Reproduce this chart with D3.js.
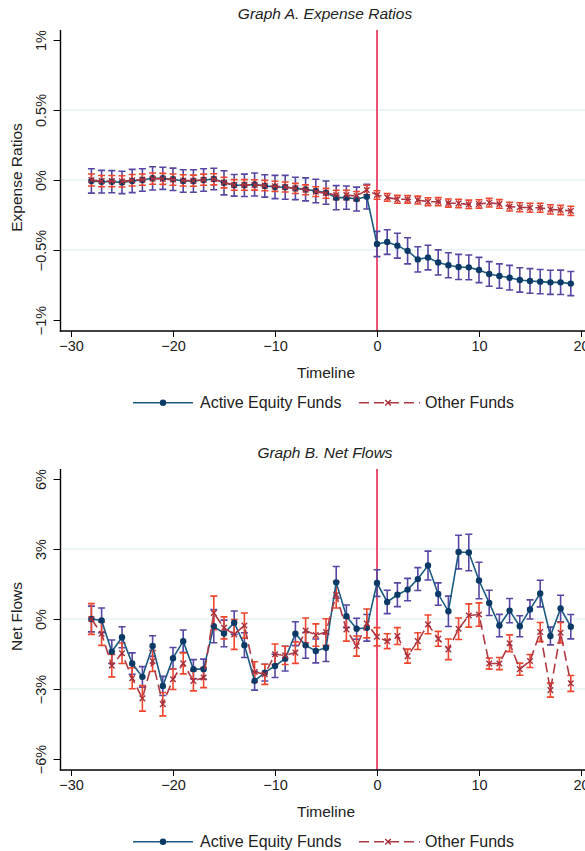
<!DOCTYPE html>
<html>
<head>
<meta charset="utf-8">
<script src="https://cdn.jsdelivr.net/npm/d3@7"></script>
<style>
  body { margin: 0; background: #fff; }
  svg { display: block; font-family: "Liberation Sans", Arial, sans-serif; }
</style>
</head>
<body>
<div id="chart"></div>
<script>
const timeline = [-28, -27, -26, -25, -24, -23, -22, -21, -20, -19, -18, -17, -16, -15, -14, -13,
  -12, -11, -10, -9, -8, -7, -6, -5, -4, -3, -2, -1, 0, 1, 2, 3, 4, 5, 6, 7, 8, 9, 10, 11, 12, 13,
  14, 15, 16, 17, 18, 19]
const xTicks = [-30, -20, -10, 0, 10, 20]
const seriesNames = ["Active Equity Funds", "Other Funds"]

// Graph A: expense ratios (%), point estimates and CI half widths
const activeER = [-0.007, -0.012, -0.012, -0.017, -0.007, 0.000, 0.012, 0.012, 0.005, -0.007,
  -0.007, 0.000, 0.007, -0.020, -0.038, -0.038, -0.032, -0.042, -0.050, -0.052, -0.060, -0.067,
  -0.079, -0.090, -0.126, -0.126, -0.136, -0.119, -0.457, -0.443, -0.469, -0.506, -0.567, -0.554,
  -0.589, -0.609, -0.621, -0.624, -0.643, -0.671, -0.686, -0.698, -0.714, -0.721, -0.726, -0.731,
  -0.731, -0.740]
const activeERci = [0.087, 0.081, 0.079, 0.080, 0.083, 0.080, 0.083, 0.079, 0.080, 0.080, 0.080,
  0.080, 0.077, 0.086, 0.077, 0.080, 0.082, 0.080, 0.083, 0.085, 0.080, 0.082, 0.084, 0.083, 0.086,
  0.083, 0.085, 0.088, 0.090, 0.088, 0.089, 0.093, 0.090, 0.088, 0.090, 0.089, 0.090, 0.088, 0.090,
  0.088, 0.087, 0.088, 0.087, 0.088, 0.087, 0.086, 0.087, 0.086]
const otherER = [0.000, -0.008, -0.008, -0.010, -0.002, 0.003, 0.010, 0.008, 0.003, -0.003, -0.005,
  0.002, 0.005, -0.018, -0.035, -0.035, -0.035, -0.040, -0.045, -0.050, -0.060, -0.070, -0.083,
  -0.095, -0.107, -0.107, -0.115, -0.071, -0.107, -0.124, -0.138, -0.138, -0.143, -0.155, -0.155,
  -0.165, -0.167, -0.174, -0.171, -0.162, -0.171, -0.190, -0.195, -0.198, -0.198, -0.210, -0.214,
  -0.221]
const otherERci = [0.043, 0.040, 0.040, 0.040, 0.041, 0.040, 0.040, 0.039, 0.040, 0.040, 0.040,
  0.040, 0.040, 0.038, 0.038, 0.038, 0.037, 0.037, 0.036, 0.036, 0.036, 0.035, 0.035, 0.035, 0.034,
  0.034, 0.033, 0.034, 0.030, 0.028, 0.028, 0.027, 0.028, 0.028, 0.029, 0.029, 0.030, 0.030, 0.030,
  0.031, 0.031, 0.031, 0.032, 0.032, 0.032, 0.033, 0.033, 0.033]

// Graph B: net flows (%), point estimates and CI half widths
const activeFlow = [0.00, -0.06, -1.40, -0.78, -1.91, -2.48, -1.16, -2.87, -1.68, -0.95, -2.15,
  -2.15, -0.31, -0.62, -0.16, -1.12, -2.65, -2.30, -2.01, -1.70, -0.63, -1.13, -1.37, -1.23, 1.57,
  0.12, -0.42, -0.38, 1.54, 0.73, 1.04, 1.26, 1.71, 2.29, 1.07, 0.33, 2.87, 2.85, 1.65, 0.69, -0.28,
  0.36, -0.31, 0.41, 1.09, -0.73, 0.45, -0.33]
const activeFlowCi = [0.55, 0.53, 0.50, 0.45, 0.46, 0.44, 0.44, 0.41, 0.46, 0.48, 0.41, 0.43, 0.71,
  0.57, 0.50, 0.53, 0.40, 0.36, 0.50, 0.53, 0.51, 0.55, 0.51, 0.59, 0.68, 0.48, 0.45, 0.57, 0.57,
  0.50, 0.51, 0.48, 0.49, 0.62, 0.48, 0.65, 0.72, 0.78, 0.78, 0.54, 0.48, 0.52, 0.45, 0.41, 0.57,
  0.38, 0.57, 0.52]
const otherFlow = [0.00, -0.63, -2.00, -1.47, -2.54, -3.40, -1.80, -3.65, -2.58, -1.90, -2.65,
  -2.51, 0.26, -0.38, -0.66, -0.28, -2.27, -2.37, -1.51, -1.56, -1.44, -0.49, -0.69, -0.56, 1.04,
  -0.45, -1.16, -0.19, -0.76, -0.95, -0.73, -1.59, -0.95, -0.23, -0.85, -1.30, -0.42, 0.15, 0.19,
  -1.91, -1.91, -1.04, -2.15, -1.80, -0.56, -3.05, -0.59, -2.76]
const otherFlowCi = [0.66, 0.50, 0.48, 0.44, 0.45, 0.55, 0.45, 0.50, 0.44, 0.45, 0.43, 0.43, 0.72,
  0.47, 0.64, 0.54, 0.44, 0.43, 0.44, 0.39, 0.46, 0.53, 0.48, 0.57, 0.57, 0.50, 0.43, 0.62, 0.39,
  0.32, 0.36, 0.30, 0.36, 0.40, 0.32, 0.44, 0.46, 0.50, 0.50, 0.24, 0.26, 0.36, 0.26, 0.28, 0.41,
  0.30, 0.44, 0.34]

const erTicks = [-1, -0.5, 0, 0.5, 1]
const erLabels = ["\u22121%", "\u22120.5%", "0%", "0.5%", "1%"]
const flowTicks = [-6, -3, 0, 3, 6]
const flowLabels = ["\u22126%", "\u22123%", "0%", "3%", "6%"]

width = 585
height = 851

blueLine = "#1c5a82"
blueDot = "#0b3a66"
blueCi = "#5547a3"
redLine = "#b03a44"
redMark = "#a8303c"
redCi = "#f0462e"

const svg = d3.select("#chart").append("svg")
    .attr("width", width)
    .attr("height", height)

x = d3.scaleLinear()
    .domain([-30, 20])
    .range([71, 581])

function panel(top, title, ylabel, ticks, labels, active, activeCi, other, otherCi) {
  const g = svg.append("g")
      .attr("transform", `translate(0,${top})`)

  const y = d3.scaleLinear()
      .domain([ticks[0], ticks[ticks.length - 1]])
      .range([320, 40])
  const plotTop = 30, plotBottom = 331, plotLeft = 60.5

  // gridlines on inner ticks only
  g.append("g")
    .selectAll("line")
    .data(ticks.slice(1, -1))
    .join("line")
      .attr("x1", plotLeft)
      .attr("x2", width)
      .attr("y1", d => y(d))
      .attr("y2", d => y(d))
      .attr("stroke", "#dbeeee")
      .attr("stroke-width", 1.2)

  g.append("line")
      .attr("x1", x(0)).attr("x2", x(0))
      .attr("y1", plotTop).attr("y2", plotBottom)
      .attr("stroke", "#ea5472")
      .attr("stroke-width", 2)

  const rows = timeline.map((t, i) => ({t, a: active[i], ac: activeCi[i], o: other[i], oc: otherCi[i]}))

  function caps(key, ci, color) {
    const cg = g.append("g")
        .attr("stroke", color)
        .attr("stroke-width", 1.6)
        .attr("fill", "none")
    cg.selectAll("path")
      .data(rows)
      .join("path")
        .attr("d", d => {
          const cx = x(d.t), y1 = y(d[key] + d[ci]), y2 = y(d[key] - d[ci])
          return `M${cx - 3.5},${y1}H${cx + 3.5}M${cx},${y1}V${y2}M${cx - 3.5},${y2}H${cx + 3.5}`
        })
  }

  caps("a", "ac", blueCi)
  caps("o", "oc", redCi)

  const line = key => d3.line()
      .x(d => x(d.t))
      .y(d => y(d[key]))

  g.append("path")
      .datum(rows)
      .attr("fill", "none")
      .attr("stroke", blueLine)
      .attr("stroke-width", 1.6)
      .attr("d", line("a"))

  g.append("g")
      .attr("fill", blueDot)
    .selectAll("circle")
    .data(rows)
    .join("circle")
      .attr("cx", d => x(d.t))
      .attr("cy", d => y(d.a))
      .attr("r", 3.2)

  g.append("path")
      .datum(rows)
      .attr("fill", "none")
      .attr("stroke", redLine)
      .attr("stroke-width", 1.6)
      .attr("stroke-dasharray", "10,5")
      .attr("d", line("o"))

  g.append("g")
      .attr("stroke", redMark)
      .attr("stroke-width", 1.4)
    .selectAll("path")
    .data(rows)
    .join("path")
      .attr("d", d => {
        const cx = x(d.t), cy = y(d.o), s = 2.8
        return `M${cx - s},${cy - s}L${cx + s},${cy + s}M${cx - s},${cy + s}L${cx + s},${cy - s}`
      })

  // y axis
  const yAxis = g.append("g")
      .attr("transform", `translate(${plotLeft},0)`)
      .call(d3.axisLeft(y).tickValues(ticks).tickSize(7).tickFormat((d, i) => labels[i]))
  yAxis.select(".domain").remove()
  yAxis.selectAll(".tick line").attr("stroke", "#000")
  yAxis.selectAll("text")
      .attr("transform", "rotate(-90)")
      .attr("x", 0)
      .attr("y", -15)
      .attr("dy", 0)
      .attr("text-anchor", "middle")
      .attr("fill", "#222")
      .style("font-size", "14.5px")
  g.append("line")
      .attr("x1", plotLeft).attr("x2", plotLeft)
      .attr("y1", plotTop).attr("y2", plotBottom + 0.7)
      .attr("stroke", "#000")
      .attr("stroke-width", 1.4)

  // x axis
  const xAxis = g.append("g")
      .attr("transform", `translate(0,${plotBottom})`)
      .call(d3.axisBottom(x).tickValues(xTicks).tickSize(6))
  xAxis.select(".domain").remove()
  xAxis.selectAll(".tick line").attr("stroke", "#000")
  xAxis.selectAll("text")
      .attr("y", 10)
      .attr("dy", "0.71em")
      .attr("fill", "#222")
      .style("font-size", "14.5px")
  g.append("line")
      .attr("x1", plotLeft - 0.7).attr("x2", width)
      .attr("y1", plotBottom).attr("y2", plotBottom)
      .attr("stroke", "#000")
      .attr("stroke-width", 1.4)

  g.append("text")
      .attr("x", 325)
      .attr("y", 19)
      .attr("text-anchor", "middle")
      .attr("fill", "#222")
      .style("font-size", "15.5px")
      .style("font-style", "italic")
      .text(title)

  g.append("text")
      .attr("transform", `translate(21.5,${(plotTop + plotBottom) / 2 - 3}) rotate(-90)`)
      .attr("text-anchor", "middle")
      .attr("fill", "#222")
      .style("font-size", "15.5px")
      .text(ylabel)

  g.append("text")
      .attr("x", 326)
      .attr("y", 378)
      .attr("text-anchor", "middle")
      .attr("fill", "#222")
      .style("font-size", "15.5px")
      .text("Timeline")

  // legend
  const lg = g.append("g").attr("transform", "translate(0,402.7)")
  lg.append("line")
      .attr("x1", 133).attr("x2", 193)
      .attr("stroke", blueLine).attr("stroke-width", 1.6)
  lg.append("circle")
      .attr("cx", 163).attr("r", 3.2).attr("fill", blueDot)
  lg.append("text")
      .attr("x", 200).attr("y", 5.5)
      .attr("fill", "#222")
      .style("font-size", "16px")
      .text(seriesNames[0])
  lg.append("line")
      .attr("x1", 359).attr("x2", 420)
      .attr("stroke", redLine).attr("stroke-width", 1.6)
      .attr("stroke-dasharray", "10,5")
  lg.append("path")
      .attr("d", "M385.2,-2.8L390.8,2.8M385.2,2.8L390.8,-2.8")
      .attr("stroke", redMark).attr("stroke-width", 1.4)
  lg.append("text")
      .attr("x", 425).attr("y", 5.5)
      .attr("fill", "#222")
      .style("font-size", "16px")
      .text(seriesNames[1])
}

panel(0, "Graph A. Expense Ratios", "Expense Ratios", erTicks, erLabels, activeER, activeERci, otherER, otherERci)
panel(439, "Graph B. Net Flows", "Net Flows", flowTicks, flowLabels, activeFlow, activeFlowCi, otherFlow, otherFlowCi)
</script>
</body>
</html>
